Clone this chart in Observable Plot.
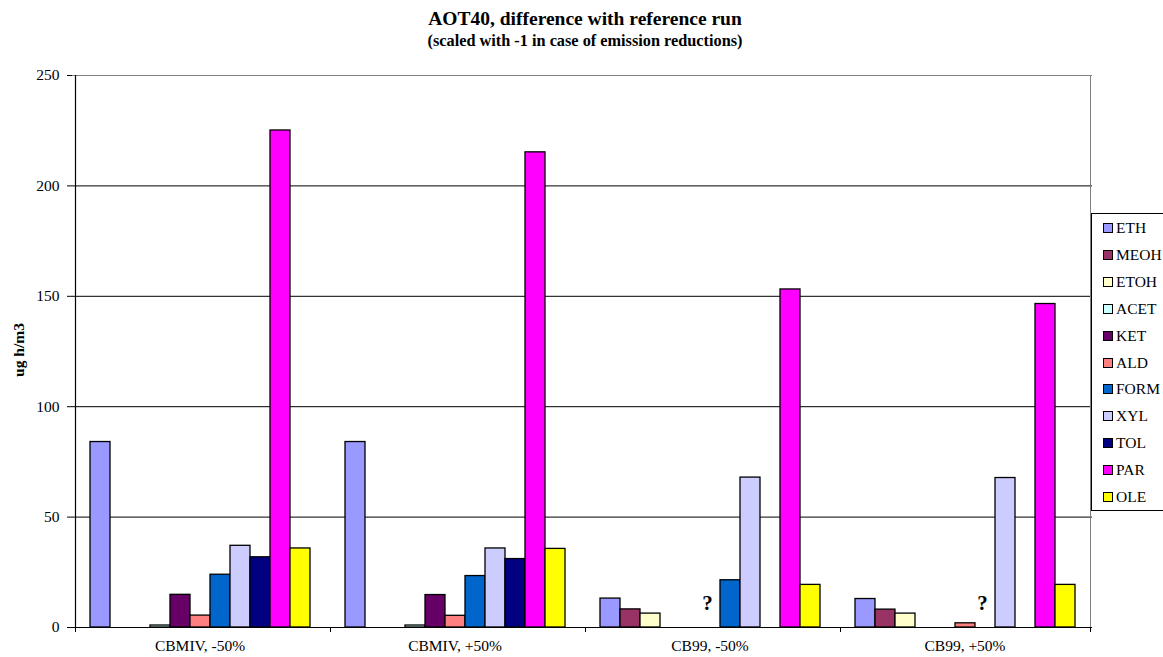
<!DOCTYPE html>
<html>
<head>
<meta charset="utf-8">
<script src="https://cdn.jsdelivr.net/npm/d3@7"></script>
<script src="https://cdn.jsdelivr.net/npm/@observablehq/plot@0.6"></script>
<style>
  html, body { margin: 0; padding: 0; background: #fff; overflow: hidden; }
  #wrap { position: relative; width: 1163px; height: 657px; overflow: hidden; font-family: "Liberation Serif", "Times New Roman", serif; }
  #chart { position: absolute; left: 0; top: 0; }
  .title { position: absolute; left: 0; width: 1170px; text-align: center; font-weight: bold; white-space: nowrap; font-family: "Liberation Serif", serif; }
  #t1 { top: 7px; font-size: 19.5px; line-height: 24px; }
  #t2 { top: 31px; font-size: 16.3px; line-height: 20px; }
  #ylab { position: absolute; left: 19px; top: 350px; font-size: 15.5px; font-weight: bold; font-family: "Liberation Serif", serif; transform: translate(-50%, -50%) rotate(-90deg); white-space: nowrap; }
  #legend { position: absolute; left: 1091px; top: 213px; width: 100px; height: 296px; border: 1px solid #000; background: #fff; }
  .item { position: absolute; left: 0; height: 20px; line-height: 20px; font-size: 15.5px; white-space: nowrap; font-family: "Liberation Serif", serif; }
  .sw { position: absolute; left: 11px; top: 5px; width: 8px; height: 8px; border: 1px solid #000; }
  .lt { position: absolute; left: 24px; top: 0; }
</style>
</head>
<body>
<div id="wrap">
  <div id="chart"></div>
  <div class="title" id="t1"></div>
  <div class="title" id="t2"></div>
  <div id="ylab"></div>
  <div id="legend"></div>
</div>
<script>
// ---- data ----
const titleText = "AOT40, difference with reference run";
const subtitleText = "(scaled with -1 in case of emission reductions)";
const yLabel = "ug h/m3";
const categories = ["CBMIV, -50%", "CBMIV, +50%", "CB99, -50%", "CB99, +50%"];
const species = ["ETH", "MEOH", "ETOH", "ACET", "KET", "ALD", "FORM", "XYL", "TOL", "PAR", "OLE"];
const colors = ["#9999FF", "#993366", "#FFFFCC", "#CCFFFF", "#660066", "#FF8080", "#0066CC", "#CCCCFF", "#000080", "#FF00FF", "#FFFF00"];
const cbmivMinus50 = [84, null, null, 0.9, 14.8, 5.4, 23.9, 37.0, 31.8, 225.1, 35.8];
const cbmivPlus50  = [84, null, null, 0.9, 14.7, 5.3, 23.3, 35.8, 31.0, 215.2, 35.6];
const cb99Minus50  = [13.1, 8.2, 6.3, null, null, null, 21.4, 67.9, null, 153.1, 19.3];
const cb99Plus50   = [12.9, 8.1, 6.3, null, null, 1.9, null, 67.7, null, 146.5, 19.3];
const yTicks = [0, 50, 100, 150, 200, 250];
const gridValues = [50, 100, 150, 200];
const unknownMarks = [{cat: "CB99, -50%", sp: "ALD", label: "?"}, {cat: "CB99, +50%", sp: "FORM", label: "?"}];

const seriesByCat = [cbmivMinus50, cbmivPlus50, cb99Minus50, cb99Plus50];
const rows = categories.flatMap((c, i) => species.map((s, j) => ({cat: c, sp: s, v: seriesByCat[i][j]})))
  .filter(d => d.v != null);

// ---- text ----
document.getElementById("t1").textContent = titleText;
document.getElementById("t2").textContent = subtitleText;
document.getElementById("ylab").textContent = yLabel;
const legend = document.getElementById("legend");
species.forEach((s, i) => {
  const it = document.createElement("div");
  it.className = "item";
  it.style.top = (4 + i * 26.9) + "px";
  const sw = document.createElement("div");
  sw.className = "sw";
  sw.style.background = colors[i];
  const lt = document.createElement("div");
  lt.className = "lt";
  lt.textContent = s;
  it.appendChild(sw); it.appendChild(lt);
  legend.appendChild(it);
});

// ---- chart ----
const edge = 25; // half band + outer padding (pixels) to reach facet edge
const chart = Plot.plot({
  width: 1163,
  height: 657,
  marginLeft: 72,
  marginRight: 71,
  marginTop: 75,
  marginBottom: 30,
  style: {fontFamily: "Liberation Serif, serif", fontSize: "15.5px", background: "transparent", color: "#000"},
  fx: {domain: categories, padding: 0, label: null, tickSize: 0, tickPadding: 12, axis: "bottom"},
  x: {domain: species, paddingInner: 0, paddingOuter: 0.72, axis: null},
  y: {domain: [0, 250], ticks: yTicks, tickSize: 5, tickPadding: 8, label: null, tickFormat: d => String(d)},
  color: {domain: species, range: colors},
  marks: [
    Plot.ruleY(gridValues, {stroke: "#000", strokeWidth: 1}),
    Plot.ruleY([250], {stroke: "#808080", strokeWidth: 1}),
    // plot-area right border
    Plot.ruleX([categories[3]], {fx: d => d, x: () => "OLE", y1: 0, y2: 250, dx: edge, stroke: "#808080"}),
    Plot.barY(rows, {fx: "cat", x: "sp", y: "v", fill: "sp", stroke: "#000", strokeWidth: 1.3}),
    Plot.text(unknownMarks, {fx: "cat", x: "sp", y: () => 0, text: "label", dx: -3, dy: -24, fontSize: 21, fontWeight: "bold"}),
    // left axis line
    Plot.ruleX([categories[0]], {fx: d => d, x: () => "ETH", y1: 0, y2: 250, dx: -edge, stroke: "#000", strokeWidth: 1.2}),
    // baseline
    Plot.ruleY([0], {stroke: "#000", strokeWidth: 1.2}),
    // category boundary ticks
    Plot.ruleX(categories, {fx: d => d, x: () => "ETH", y1: 0, y2: 0, insetBottom: -5, dx: -edge, stroke: "#000"}),
    Plot.ruleX([categories[3]], {fx: d => d, x: () => "OLE", y1: 0, y2: 0, insetBottom: -5, dx: edge, stroke: "#000"})
  ]
});
document.getElementById("chart").appendChild(chart);
</script>
</body>
</html>
